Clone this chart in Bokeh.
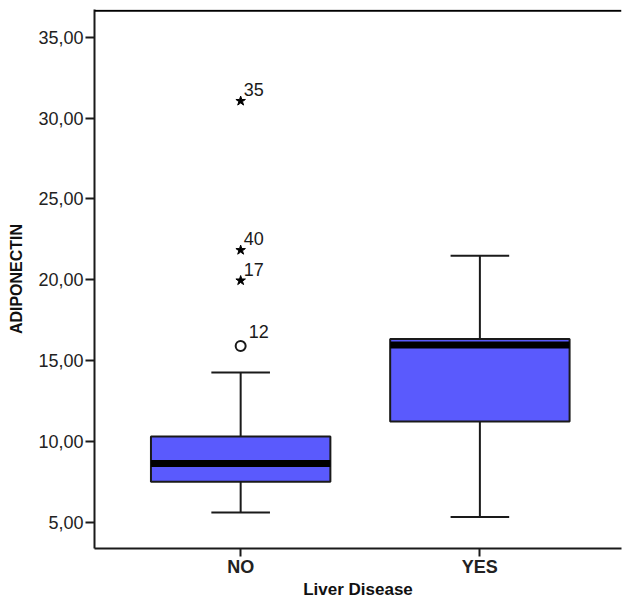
from bokeh.plotting import figure
from bokeh.models import ColumnDataSource, FixedTicker, Range1d, Span
from bokeh.embed import file_html
from bokeh.resources import INLINE

# ---- data ----
categories = ["NO", "YES"]
q1 = [7.50, 11.23]
median = [8.63, 15.96]
q3 = [10.31, 16.33]
whisker_low = [5.60, 5.33]
whisker_high = [14.27, 21.48]

outlier_group = ["NO", "NO", "NO", "NO"]
outlier_value = [15.90, 19.95, 21.83, 31.05]
outlier_case = ["12", "17", "40", "35"]
outlier_kind = ["circle", "star", "star", "star"]

y_ticks = [5, 10, 15, 20, 25, 30, 35]
y_tick_labels = ["5,00", "10,00", "15,00", "20,00", "25,00", "30,00", "35,00"]

# ---- styling ----
FONT = "Liberation Sans"
BOX_FILL = "#5a5afd"
LINE = "#1a1a1a"
BOX_W = 0.75
CAP_W = 0.245
Y_TOP = 36.64

xpos = {c: i + 1 for i, c in enumerate(categories)}

p = figure(width=622, height=601, output_backend="svg", toolbar_location=None,
           x_range=Range1d(0.389, 2.592), y_range=Range1d(3.38, Y_TOP + 0.07),
           min_border_left=94, min_border_right=1, min_border_top=9,
           min_border_bottom=50, background_fill_color="white",
           border_fill_color="white", outline_line_color=None)
p.xgrid.grid_line_color = None
p.ygrid.grid_line_color = None

xs = [xpos[c] for c in categories]
src = ColumnDataSource(dict(
    x=xs, q1=q1, med=median, q3=q3, lo=whisker_low, hi=whisker_high,
    left=[x - BOX_W / 2 for x in xs], right=[x + BOX_W / 2 for x in xs],
    cl=[x - CAP_W / 2 for x in xs], cr=[x + CAP_W / 2 for x in xs],
))

p.add_layout(Span(location=Y_TOP, dimension="width", line_color="black", line_width=2))

p.segment(x0="x", y0="q3", x1="x", y1="hi", source=src, line_color=LINE, line_width=2)
p.segment(x0="x", y0="q1", x1="x", y1="lo", source=src, line_color=LINE, line_width=2)
p.segment(x0="cl", y0="hi", x1="cr", y1="hi", source=src, line_color=LINE, line_width=2)
p.segment(x0="cl", y0="lo", x1="cr", y1="lo", source=src, line_color=LINE, line_width=2)
p.quad(left="left", right="right", bottom="q1", top="q3", source=src,
       fill_color=BOX_FILL, line_color=LINE, line_width=2)
p.segment(x0="left", y0="med", x1="right", y1="med", source=src,
          line_color="black", line_width=7, line_cap="butt")

ox = [xpos[g] for g in outlier_group]
osrc = ColumnDataSource(dict(
    x=ox, y=outlier_value, lab=outlier_case,
    xo=[8 if k == "circle" else 3 for k in outlier_kind],
    yo=[-8 if k == "circle" else -5 for k in outlier_kind],
))
circ = ColumnDataSource(dict(x=[x for x, k in zip(ox, outlier_kind) if k == "circle"],
                             y=[v for v, k in zip(outlier_value, outlier_kind) if k == "circle"]))
star = ColumnDataSource(dict(x=[x for x, k in zip(ox, outlier_kind) if k == "star"],
                             y=[v for v, k in zip(outlier_value, outlier_kind) if k == "star"]))
p.scatter(x="x", y="y", source=circ, marker="circle", size=10,
          fill_color="white", line_color=LINE, line_width=2)
p.scatter(x="x", y="y", source=star, marker="star", size=10,
          fill_color="black", line_color="black", line_width=1)
p.text(x="x", y="y", text="lab", source=osrc, x_offset="xo", y_offset="yo",
       text_font={"value": FONT}, text_font_size="18px", text_color=LINE,
       text_baseline="bottom", text_align="left")

p.xaxis.ticker = FixedTicker(ticks=xs)
p.xaxis.major_label_overrides = {x: c for x, c in zip(xs, categories)}
p.xaxis.axis_label = "Liver Disease"
p.yaxis.ticker = FixedTicker(ticks=y_ticks)
p.yaxis.major_label_overrides = {t: l for t, l in zip(y_ticks, y_tick_labels)}
p.yaxis.axis_label = "ADIPONECTIN"

for ax in (p.xaxis[0], p.yaxis[0]):
    ax.axis_line_width = 2
    ax.axis_line_color = LINE
    ax.major_tick_line_color = LINE
    ax.major_tick_line_width = 2
    ax.major_tick_in = 0
    ax.minor_tick_line_color = None
    ax.major_label_text_font = FONT
    ax.axis_label_text_font = FONT
    ax.axis_label_text_font_style = "bold"
    ax.major_label_text_color = "#222222"
    ax.axis_label_text_color = "#111111"

p.xaxis.major_tick_out = 8
p.xaxis.major_label_text_font_size = "18px"
p.xaxis.major_label_text_font_style = "bold"
p.xaxis.major_label_standoff = 0
p.xaxis.axis_label_text_font_size = "17px"
p.xaxis.axis_label_standoff = 0

p.yaxis.major_tick_out = 9
p.yaxis.major_label_text_font_size = "18px"
p.yaxis.major_label_standoff = 2
p.yaxis.axis_label_text_font_size = "16px"
p.yaxis.axis_label_standoff = 10

open("out.html", "w").write(file_html(p, INLINE))
